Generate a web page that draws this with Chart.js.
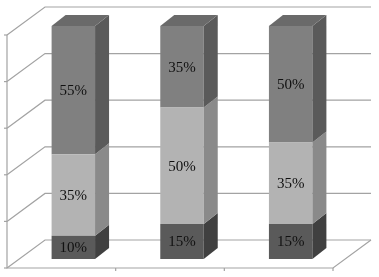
<!DOCTYPE html>
<html><head><meta charset="utf-8">
<script src="https://cdn.jsdelivr.net/npm/chart.js@4"></script>
<style>html,body{margin:0;padding:0;background:#fff;}canvas{display:block;}</style>
</head><body>
<canvas id="c" width="379" height="277"></canvas>
<script>
const categories = ["A", "B", "C"];
const bottomSeries = [10, 15, 15];
const middleSeries = [35, 50, 35];
const topSeries = [55, 35, 50];
const tickValues = [0, 20, 40, 60, 80, 100];

const FRONT = {dx: -12, dy: 9};   // bar plane -> front of floor/wall
const BACK = {dx: 26, dy: -19};   // bar plane -> back wall
const DEPTH = {dx: 14, dy: -11};  // bar depth
const sideColors = ["#404040", "#8a8a8a", "#5a5a5a"];
const topColors = ["#4a4a4a", "#9a9a9a", "#6a6a6a"];

const threeD = {
  id: 'threeD',
  beforeDatasetsDraw(chart) {
    const ctx = chart.ctx, y = chart.scales.y, a = chart.chartArea;
    ctx.save();
    ctx.strokeStyle = '#a3a3a3';
    ctx.lineWidth = 1.2;
    const L = a.left, R = a.right;
    tickValues.forEach(v => {
      const py = y.getPixelForValue(v);
      ctx.beginPath();
      ctx.moveTo(L + FRONT.dx, py + FRONT.dy);
      ctx.lineTo(L + BACK.dx, py + BACK.dy);
      ctx.lineTo(R + BACK.dx, py + BACK.dy);
      ctx.stroke();
      // front axis tick
      ctx.beginPath();
      ctx.moveTo(L + FRONT.dx - 3, py + FRONT.dy);
      ctx.lineTo(L + FRONT.dx, py + FRONT.dy);
      ctx.stroke();
    });
    const p0 = y.getPixelForValue(0), p100 = y.getPixelForValue(100);
    // front vertical axis
    ctx.beginPath();
    ctx.moveTo(L + FRONT.dx, p100 + FRONT.dy);
    ctx.lineTo(L + FRONT.dx, p0 + FRONT.dy);
    ctx.lineTo(R + FRONT.dx, p0 + FRONT.dy);
    ctx.lineTo(R + BACK.dx, p0 + BACK.dy);
    ctx.stroke();
    // category ticks on front floor edge
    const x = chart.scales.x;
    for (let i = 1; i <= categories.length; i++) {
      const px = (i < categories.length) ? (x.getPixelForValue(i - 1) + x.getPixelForValue(i)) / 2 : R;
      ctx.beginPath();
      ctx.moveTo(px + FRONT.dx, p0 + FRONT.dy);
      ctx.lineTo(px + FRONT.dx, p0 + FRONT.dy + 3);
      ctx.stroke();
    }
    ctx.restore();
  },
  afterDatasetsDraw(chart) {
    const ctx = chart.ctx;
    ctx.save();
    const n = chart.data.datasets.length;
    chart.data.datasets.forEach((ds, di) => {
      const meta = chart.getDatasetMeta(di);
      meta.data.forEach((bar) => {
        const right = bar.x + bar.width / 2, left = bar.x - bar.width / 2;
        const top = bar.y, base = bar.base;
        ctx.fillStyle = sideColors[di];
        ctx.beginPath();
        ctx.moveTo(right, base);
        ctx.lineTo(right, top);
        ctx.lineTo(right + DEPTH.dx, top + DEPTH.dy);
        ctx.lineTo(right + DEPTH.dx, base + DEPTH.dy);
        ctx.closePath();
        ctx.fill();
        if (di === n - 1) {
          ctx.fillStyle = topColors[di];
          ctx.beginPath();
          ctx.moveTo(left, top);
          ctx.lineTo(right, top);
          ctx.lineTo(right + DEPTH.dx, top + DEPTH.dy);
          ctx.lineTo(left + DEPTH.dx, top + DEPTH.dy);
          ctx.closePath();
          ctx.fill();
        }
      });
    });
    ctx.fillStyle = '#111';
    ctx.font = '15px "Liberation Serif"';
    ctx.textAlign = 'center';
    ctx.textBaseline = 'middle';
    chart.data.datasets.forEach((ds, di) => {
      const meta = chart.getDatasetMeta(di);
      meta.data.forEach((bar, i) => {
        ctx.fillText(ds.data[i] + '%', bar.x, (bar.y + bar.base) / 2 + 1);
      });
    });
    ctx.restore();
  }
};

new Chart(document.getElementById('c'), {
  type: 'bar',
  data: {
    labels: categories,
    datasets: [
      {data: bottomSeries, backgroundColor: '#5a5a5a'},
      {data: middleSeries, backgroundColor: '#b3b3b3'},
      {data: topSeries, backgroundColor: '#808080'}
    ]
  },
  options: {
    responsive: false,
    animation: false,
    devicePixelRatio: 1,
    layout: {padding: {left: 19, right: 34, top: 26, bottom: 18}},
    datasets: {bar: {barPercentage: 0.4, categoryPercentage: 1.0}},
    plugins: {legend: {display: false}, tooltip: {enabled: false}},
    scales: {
      x: {display: false, stacked: true},
      y: {display: false, stacked: true, min: 0, max: 100}
    }
  },
  plugins: [threeD]
});
</script>
</body></html>
